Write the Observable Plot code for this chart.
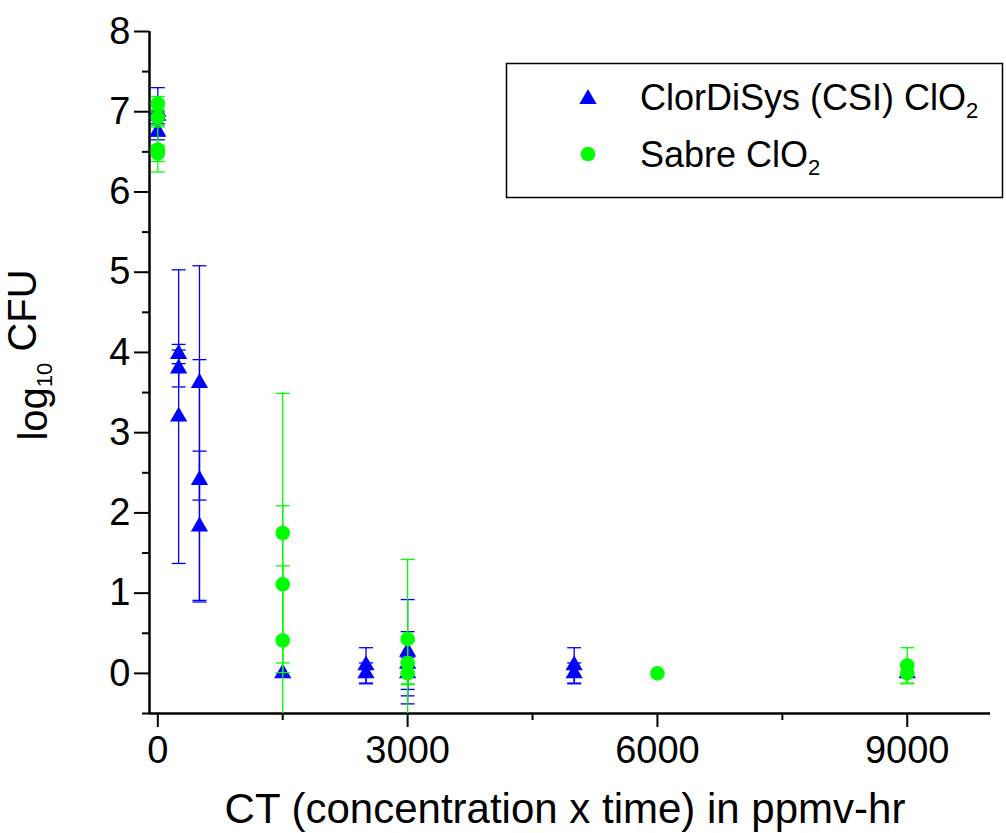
<!DOCTYPE html>
<html><head><meta charset="utf-8">
<script src="https://cdn.jsdelivr.net/npm/d3@7"></script>
<script src="https://cdn.jsdelivr.net/npm/@observablehq/plot@0.6"></script>
<style>body{margin:0;background:#fff} svg{display:block}</style>
</head><body><div id="chart"></div>
<script>
// ---- data ----
const csiX   = [0, 0, 0, 250, 250, 250, 500, 500, 500, 1500, 2500, 2500, 3000, 3000, 3000, 5000, 5000, 9000];
const csiY   = [7.0, 6.95, 6.75, 3.98, 3.8, 3.2, 3.62, 2.41, 1.83, 0, 0.1, 0, 0.27, 0.12, 0, 0.1, 0, 0];
const csiErr = [0.3, 0.05, 0.1, 0.12, 0.23, 1.83, 1.46, 1.5, 0.94, 0, 0.22, 0.13, 0.65, 0.4, 0.2, 0.22, 0.13, 0];

const sabreX   = [0, 0, 0, 0, 1500, 1500, 1500, 3000, 3000, 3000, 6000, 9000, 9000];
const sabreY   = [7.1, 6.93, 6.53, 6.48, 1.75, 1.11, 0.41, 0.43, 0.13, 0, 0, 0.1, 0];
const sabreErr = [0.09, 0.1, 0.28, 0.1, 1.74, 0.98, 0.93, 0.99, 0.27, 0.13, 0, 0.22, 0.13];

const seriesNames = ["ClorDiSys (CSI) ClO", "Sabre ClO"];
const seriesSub = ["2", "2"];
const seriesColors = ["#0000ff", "#00ff00"];
const seriesSymbols = ["triangle", "circle"];

const xMajor = [0, 3000, 6000, 9000];
const xMinor = [1500, 4500, 7500];
const yMajor = [0, 1, 2, 3, 4, 5, 6, 7, 8];
const yMinor = [-0.5, 0.5, 1.5, 2.5, 3.5, 4.5, 5.5, 6.5, 7.5];
const xDomain = [-100, 10000];
const yDomain = [-0.5, 8];

const xTitle = "CT (concentration x time) in ppmv-hr";
const yTitleParts = ["log", "10", " CFU"];

// ---- build ----
const FONT = '"Liberation Sans", Arial, Helvetica, sans-serif';
const csi = csiX.map((x, i) => ({x, y: csiY[i], e: csiErr[i]}));
const sabre = sabreX.map((x, i) => ({x, y: sabreY[i], e: sabreErr[i]}));
const capSymbol = {draw(ctx) { ctx.moveTo(-7, 0); ctx.lineTo(7, 0); }};
const R = {triangle: 6.4, circle: 7.3};

function seriesMarks(data, k) {
  const c = seriesColors[k];
  const withErr = data.filter(d => d.e > 0);
  return [
    Plot.ruleX(withErr, {x: "x", y1: d => d.y - d.e, y2: d => d.y + d.e, stroke: c, strokeWidth: 1.3, clip: true}),
    Plot.dot(withErr, {x: "x", y: d => d.y + d.e, symbol: capSymbol, stroke: c, fill: "none", strokeWidth: 1.3, clip: true}),
    Plot.dot(withErr, {x: "x", y: d => d.y - d.e, symbol: capSymbol, stroke: c, fill: "none", strokeWidth: 1.3, clip: true}),
    Plot.dot(data, {x: "x", y: "y", symbol: seriesSymbols[k], r: R[seriesSymbols[k]], fill: c, stroke: "none"})
  ];
}

const chart = Plot.plot({
  width: 1006, height: 833,
  marginTop: 31, marginRight: 16, marginBottom: 120, marginLeft: 149,
  x: {domain: xDomain},
  y: {domain: yDomain},
  style: {fontFamily: FONT, color: "black", background: "white", overflow: "visible"},
  marks: [
    Plot.axisY({ticks: yMajor, tickSize: 15, tickPadding: 4, fontSize: 38, label: null, strokeWidth: 2, tickFormat: d => String(d)}),
    Plot.axisY({ticks: yMinor, tickSize: 7, tickFormat: () => "", label: null, strokeWidth: 2}),
    Plot.axisX({ticks: xMajor, tickSize: 14, tickPadding: 9, fontSize: 38, label: null, strokeWidth: 2, tickFormat: d => String(d)}),
    Plot.axisX({ticks: xMinor, tickSize: 7, tickFormat: () => "", label: null, strokeWidth: 2}),
    Plot.ruleX([xDomain[0]], {strokeWidth: 2.5}),
    Plot.ruleY([yDomain[0]], {strokeWidth: 2.5}),
    ...seriesMarks(csi, 0),
    ...seriesMarks(sabre, 1)
  ]
});
document.getElementById("chart").appendChild(chart);

const svg = d3.select(chart);
// axis titles
svg.append("text")
  .attr("x", 565).attr("y", 823)
  .attr("text-anchor", "middle")
  .style("font-family", FONT).style("font-size", "42px").attr("fill", "black")
  .text(xTitle);

const yt = svg.append("text")
  .attr("transform", "translate(47,355) rotate(-90)")
  .attr("text-anchor", "middle")
  .style("font-family", FONT).style("font-size", "40px").attr("fill", "black");
yt.append("tspan").text(yTitleParts[0]);
yt.append("tspan").attr("dy", "0.22em").style("font-size", "22px").text(yTitleParts[1]);
yt.append("tspan").attr("dy", "-0.4em").text(yTitleParts[2]);

// legend
const lg = svg.append("g");
lg.append("rect").attr("x", 506.5).attr("y", 63.5).attr("width", 496).attr("height", 134)
  .attr("fill", "white").attr("stroke", "black").attr("stroke-width", 1.5);
const symMap = {triangle: d3.symbolTriangle, circle: d3.symbolCircle};
seriesNames.forEach((name, k) => {
  const cy = 97 + k * 57;
  const r = R[seriesSymbols[k]];
  lg.append("path")
    .attr("transform", `translate(588,${cy + (seriesSymbols[k] === "triangle" ? 2 : 0)})`)
    .attr("d", d3.symbol(symMap[seriesSymbols[k]], Math.PI * r * r)())
    .attr("fill", seriesColors[k]);
  const t = lg.append("text").attr("x", 640).attr("y", cy + 13)
    .attr("text-anchor", "start")
    .style("font-family", FONT).style("font-size", "36px").attr("fill", "black");
  t.append("tspan").text(name);
  t.append("tspan").attr("dy", "0.36em").style("font-size", "22px").text(seriesSub[k]);
});
</script>
</body></html>
